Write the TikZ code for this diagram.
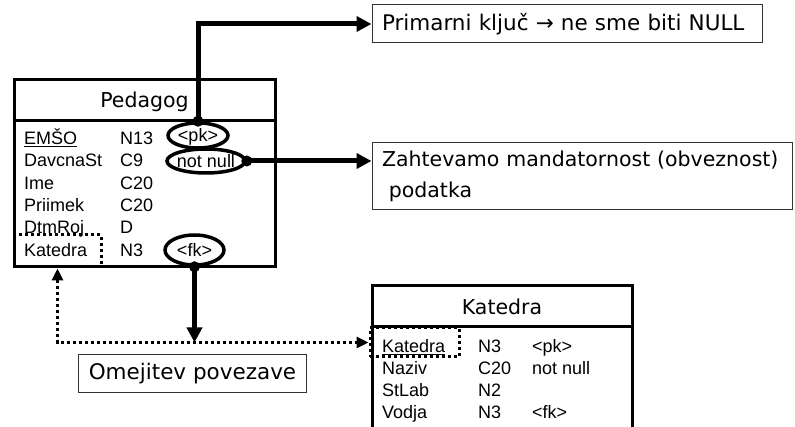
\documentclass[tikz,border=0pt]{standalone}
\usepackage{fontspec}
\setmainfont{Liberation Sans}
\newfontfamily\notefont{DejaVu Sans}
\usetikzlibrary{arrows.meta,shapes.geometric}
\tikzset{
  tablebox/.style={draw,line width=3pt,inner sep=0pt},
  tablerule/.style={line width=3pt},
  tabletitle/.style={inner sep=0pt,text height=17pt,text depth=2pt,font=\notefont\fontsize{20.5}{24}\selectfont},
  field/.style={anchor=west,inner sep=0pt,text height=15pt,text depth=2pt,font=\fontsize{18}{20}\selectfont},
  markring/.style={draw,ellipse,line width=3.5pt,inner sep=0pt},
  keybox/.style={draw,line width=3pt,dash pattern=on 3pt off 3pt,inner sep=0pt},
  notebox/.style={draw=black!80,line width=1pt,inner xsep=10pt,inner ysep=0pt,align=left,font=\notefont\fontsize{20.5}{31}\selectfont},
  widenote/.style={notebox,font=\notefont\fontsize{21.5}{31}\selectfont},
  pointer/.style={line width=5pt,-{Triangle[length=15pt,width=15pt]}},
  keylink/.style={line width=3pt,dash pattern=on 3pt off 3pt,{Triangle[length=12pt,width=11pt]}-{Triangle[length=12pt,width=11pt]}},
}
\begin{document}
\begin{tikzpicture}[x=1pt,y=-1pt,line join=miter]
  \useasboundingbox (0,0) rectangle (795,427);
  \clip (0,0) rectangle (795,427);
  % dotted key frames
  \node[keybox,minimum width=87pt,minimum height=32pt] (pkat) at (57.5,251) {};
  \node[keybox,minimum width=89pt,minimum height=29pt] (kkat) at (414.5,342.5) {};
  % tables
  \node[tablebox,minimum width=261pt,minimum height=187pt] (ped) at (144.5,173.5) {};
  \node[tablebox,minimum width=260pt,minimum height=170pt] (kat) at (502,371) {};
  \draw[tablerule] (ped.west |- 0,121) -- (ped.east |- 0,121);
  \draw[tablerule] (kat.west |- 0,327) -- (kat.east |- 0,327);
  \node[tabletitle] (pedname) at (144.5,100) {Pedagog};
  \node[tabletitle] (katname) at (502,307) {Katedra};
  % Pedagog fields
  \node[field] (emso) at (24,138) {\underline{EMŠO}};
  \node[field] (davcna) at (24,160) {DavcnaSt};
  \node[field] (ime) at (24,183) {Ime};
  \node[field] (priimek) at (24,205) {Priimek};
  \node[field] (dtmroj) at (24,227) {DtmRoj};
  \node[field] (pkatedra) at (24,250) {Katedra};
  \node[field] (emsotype) at (120,138) {N13};
  \node[field] (davcnatype) at (120,160) {C9};
  \node[field] (imetype) at (120,183) {C20};
  \node[field] (priimektype) at (120,205) {C20};
  \node[field] (dtmrojtype) at (120,227) {D};
  \node[field] (pkatedratype) at (120,250) {N3};
  \node[markring,minimum width=60pt,minimum height=25pt] (pk) at (198,135.5) {};
  \node[markring,minimum width=78pt,minimum height=24pt] (nn) at (206,161) {};
  \node[markring,minimum width=59pt,minimum height=30pt] (fk) at (194.5,250) {};
  \node[field,anchor=center] (pklabel) at (pk) {<pk>};
  \node[field,anchor=center] (nnlabel) at (nn) {not null};
  \node[field,anchor=center] (fklabel) at (fk) {<fk>};
  \fill (pk.north) circle (5.5pt);
  \fill (nn.east) circle (5.5pt);
  \fill (fk.south) circle (5.5pt);
  % Katedra fields
  \node[field] (kkatedra) at (382,346) {\underline{Katedra}};
  \node[field] (naziv) at (382,368) {Naziv};
  \node[field] (stlab) at (382,390) {StLab};
  \node[field] (vodja) at (382,412) {Vodja};
  \node[field] (kkatedratype) at (478,346) {N3};
  \node[field] (naziivtype) at (478,368) {C20};
  \node[field] (stlabtype) at (478,390) {N2};
  \node[field] (vodjatype) at (478,412) {N3};
  \node[field] (kkatedrakey) at (532,346) {<pk>};
  \node[field] (nazivkey) at (532,368) {not null};
  \node[field] (vodjakey) at (532,412) {<fk>};
  % notes
  \node[widenote,text width=370pt,minimum height=38pt] (prim) at (567,24) {Primarni ključ → ne sme biti NULL};
  \node[notebox,text width=400pt,minimum height=67pt] (zah) at (582,176.5) {\mbox{Zahtevamo mandatornost (obveznost)}\\ \ podatka};
  \node[widenote,align=center,minimum width=227pt,minimum height=38pt] (omej) at (192.5,374) {Omejitev povezave};
  % connectors
  \draw[pointer] (pk.north) |- (prim.west);
  \draw[pointer] (nn.east) -- (nn.east -| zah.west);
  \coordinate (fkend) at (fk.south |- kkat.west);
  \draw[pointer] (fk.south) -- (fkend);
  \draw[keylink] (pkat.south) |- (kkat.west);
\end{tikzpicture}
\end{document}
